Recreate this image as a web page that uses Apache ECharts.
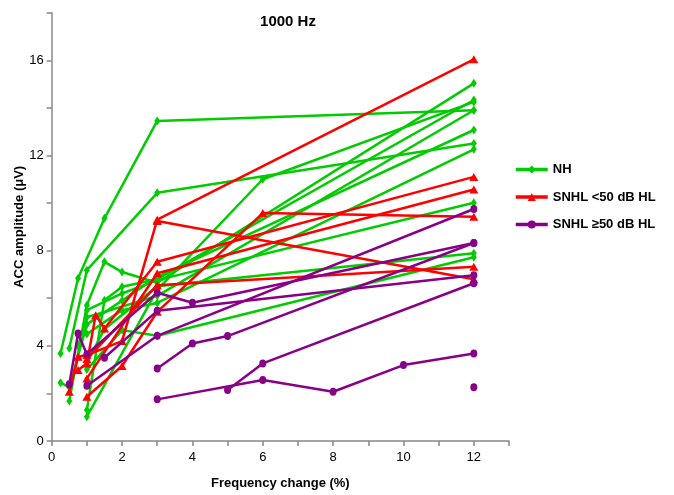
<!DOCTYPE html>
<html>
<head>
<meta charset="utf-8">
<script src="https://cdn.jsdelivr.net/npm/echarts@6/dist/echarts.min.js"></script>
<style>html,body{margin:0;padding:0;background:#fff}#c{width:674px;height:495px}</style>
</head>
<body>
<div id="c"></div>
<script>
// Frequency-change curves per subject: [frequency change %, ACC amplitude µV]
const nhLines = [
  [[0.25,3.68],[0.75,6.84],[1.5,9.36],[3,13.45],[12,13.9]],
  [[0.5,3.9],[1,7.18],[3,10.43],[12,12.5]],
  [[0.5,1.68],[1,5.71],[1.5,7.53],[2,7.1],[3,6.65],[12,15.03]],
  [[1,1.3],[1.5,5.92],[2,6.48],[3,6.8],[12,14.33]],
  [[1,1.02],[3,6.35],[6,11.0],[12,14.25]],
  [[0.25,2.45],[0.5,2.25],[1,4.9],[2,5.9],[3,6.9],[12,13.07]],
  [[1,4.5],[2,5.5],[3,5.8],[12,12.26]],
  [[1,5.5],[2,6.2],[3,6.76],[12,10.01]],
  [[1,3.3],[1.5,4.7],[3,6.5],[12,7.89]],
  [[1,3.0],[2,4.66],[3,4.42],[12,7.72]],
  [[0.75,4.0],[1,5.2],[3,6.1],[12,13.9]]
];
const snhlMildLines = [
  [[0.5,2.07],[0.75,3.54],[1,3.61],[2,4.2],[3,9.3],[12,16.04]],
  [[0.75,2.98],[1,3.26],[1.25,5.29],[1.5,4.73],[3,7.53],[12,11.1]],
  [[1,2.63],[3,7.05],[12,10.57]],
  [[1,1.86],[2,3.15],[3,5.43],[6,9.58],[12,9.42]],
  [[1,3.45],[3,6.55],[12,7.32]],
  [[3,9.25],[12,6.8]]
];
const snhlSevereLines = [
  [[0.5,2.39],[0.75,4.52],[1,3.65],[3,6.23],[4,5.81],[12,8.32]],
  [[1.5,3.5],[3,5.47],[12,6.97]],
  [[1,2.32],[3,4.42],[12,9.75]],
  [[3,3.05],[4,4.10],[5,4.41],[12,8.32]],
  [[5,2.14],[6,3.26],[12,6.63]],
  [[3,1.75],[6,2.56],[8,2.07],[10,3.19],[12,3.68]],
  [[12,2.26]]
];
const groupNames = ['NH', 'SNHL <50 dB HL', 'SNHL \u226550 dB HL'];
const xTicks = [0, 2, 4, 6, 8, 10, 12];
const yTicks = [0, 4, 8, 12, 16];

const styles = [
  {color: '#00cc00', symbol: 'diamond', size: [6, 9]},
  {color: '#ff0000', symbol: 'triangle', size: [9, 8]},
  {color: '#880088', symbol: 'circle', size: [7, 8]}
];
const groups = [nhLines, snhlMildLines, snhlSevereLines];
const series = [];
groups.forEach((lines, gi) => {
  lines.forEach(pts => {
    series.push({
      name: groupNames[gi],
      type: 'line',
      data: pts,
      symbol: styles[gi].symbol,
      symbolSize: styles[gi].size,
      showSymbol: true,
      color: styles[gi].color,
      lineStyle: {width: 2.5, color: styles[gi].color},
      itemStyle: {color: styles[gi].color},
      silent: true,
      animation: false,
      z: 2 + gi
    });
  });
});

const chart = echarts.init(document.getElementById('c'), null, {renderer: 'canvas'});
const font = 'Liberation Sans, Arial, sans-serif';
chart.setOption({
  animation: false,
  title: {
    text: '1000 Hz', left: 283, top: 9, textAlign: 'center',
    textStyle: {fontFamily: font, fontSize: 15, fontWeight: 'bold', color: '#000'}
  },
  legend: {
    data: groupNames, orient: 'vertical', left: 509, top: 158,
    itemWidth: 32, itemHeight: 10, itemGap: 14.5,
    lineStyle: {width: 3.5},
    textStyle: {fontFamily: font, fontSize: 13, fontWeight: 'bold', color: '#000'}
  },
  grid: {left: 51.7, right: 165, top: 12.7, bottom: 54, containLabel: false},
  xAxis: {
    type: 'value', min: 0, max: 13, interval: 1,
    name: 'Frequency change (%)', nameLocation: 'middle', nameGap: 36,
    nameMoveOverlap: false,
    nameTextStyle: {fontFamily: font, fontSize: 13, fontWeight: 'bold', color: '#000'},
    axisLine: {lineStyle: {color: '#888', width: 1.5}},
    axisTick: {show: true, length: 5, lineStyle: {color: '#888', width: 1.5}},
    axisLabel: {fontFamily: font, fontSize: 13, color: '#000', margin: 10,
      formatter: v => xTicks.includes(v) ? String(v) : ''},
    splitLine: {show: false}
  },
  yAxis: {
    type: 'value', min: 0, max: 18, interval: 2,
    name: 'ACC amplitude (\u03bcV)', nameLocation: 'middle', nameGap: 26,
    nameMoveOverlap: false,
    nameTextStyle: {fontFamily: font, fontSize: 13, fontWeight: 'bold', color: '#000'},
    axisLine: {show: true, lineStyle: {color: '#888', width: 1.5}},
    axisTick: {show: true, length: 5, lineStyle: {color: '#888', width: 1.5}},
    axisLabel: {fontFamily: font, fontSize: 13, color: '#000', margin: 8,
      formatter: v => yTicks.includes(v) ? String(v) : ''},
    splitLine: {show: false}
  },
  series: series
});
</script>
</body>
</html>
